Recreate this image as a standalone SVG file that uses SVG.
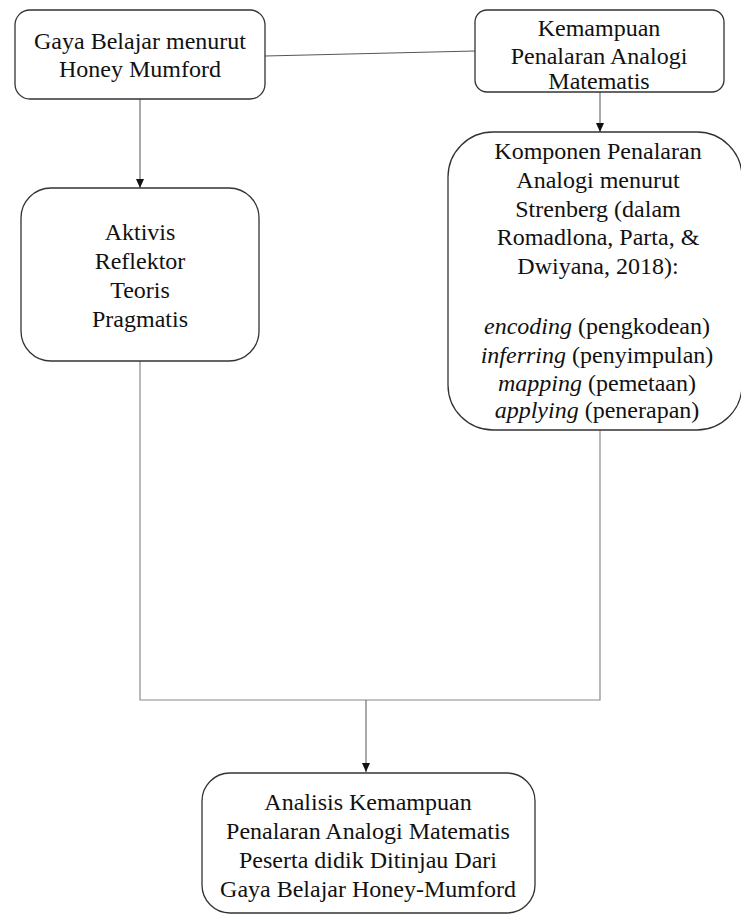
<svg xmlns="http://www.w3.org/2000/svg" width="741" height="916" viewBox="0 0 741 916">
<defs>
<style>
.box{fill:#fff;stroke:#333;stroke-width:1.3}
.t{font-family:"Liberation Serif","Times New Roman",serif;font-size:24px;fill:#111;text-anchor:middle}
.i{font-style:italic}
.c{fill:none;stroke:#555;stroke-width:1}
.cl{fill:none;stroke:#8a8a8a;stroke-width:1.2}
</style>
<marker id="ah" markerWidth="10" markerHeight="10" refX="9" refY="5" orient="auto" markerUnits="userSpaceOnUse">
<path d="M0,1 L9,5 L0,9 Z" fill="#111"/>
</marker>
</defs>
<rect width="741" height="916" fill="#fff"/>
<g id="connectors">
<line class="c" x1="265" y1="56" x2="475" y2="51"/>
<line class="c" x1="140" y1="99" x2="140" y2="188" marker-end="url(#ah)"/>
<line class="c" x1="600" y1="92" x2="600" y2="132" marker-end="url(#ah)"/>
<polyline class="cl" points="140,361 140,700 600,700 600,430"/>
<line class="c" x1="366" y1="700" x2="366" y2="772" marker-end="url(#ah)"/>
</g>
<g id="node-gaya">
<rect class="box" x="15" y="10" width="250" height="89" rx="15"/>
<text class="t" x="140" y="49">Gaya Belajar menurut</text>
<text class="t" x="140" y="77">Honey Mumford</text>
</g>
<g id="node-kemampuan">
<rect class="box" x="475" y="10" width="249" height="82" rx="12"/>
<text class="t" x="599" y="36">Kemampuan</text>
<text class="t" x="599" y="64">Penalaran Analogi</text>
<text class="t" x="599" y="89">Matematis</text>
</g>
<g id="node-aktivis">
<rect class="box" x="21" y="188" width="238" height="173" rx="30"/>
<text class="t" x="140" y="240">Aktivis</text>
<text class="t" x="140" y="269">Reflektor</text>
<text class="t" x="140" y="298">Teoris</text>
<text class="t" x="140" y="327">Pragmatis</text>
</g>
<g id="node-komponen">
<rect class="box" x="448" y="132" width="294" height="298" rx="45"/>
<text class="t" x="598" y="159">Komponen Penalaran</text>
<text class="t" x="598" y="188">Analogi menurut</text>
<text class="t" x="598" y="217">Strenberg (dalam</text>
<text class="t" x="598" y="245">Romadlona, Parta, &amp;</text>
<text class="t" x="598" y="274">Dwiyana, 2018):</text>
<text class="t" x="597" y="334"><tspan class="i">encoding</tspan> (pengkodean)</text>
<text class="t" x="597" y="363"><tspan class="i">inferring</tspan> (penyimpulan)</text>
<text class="t" x="597" y="391"><tspan class="i">mapping</tspan> (pemetaan)</text>
<text class="t" x="597" y="418"><tspan class="i">applying</tspan> (penerapan)</text>
</g>
<g id="node-analisis">
<rect class="box" x="202" y="773" width="333" height="140" rx="28"/>
<text class="t" x="368" y="810">Analisis Kemampuan</text>
<text class="t" x="368" y="839">Penalaran Analogi Matematis</text>
<text class="t" x="368" y="868">Peserta didik Ditinjau Dari</text>
<text class="t" x="368" y="897">Gaya Belajar Honey-Mumford</text>
</g>
</svg>
